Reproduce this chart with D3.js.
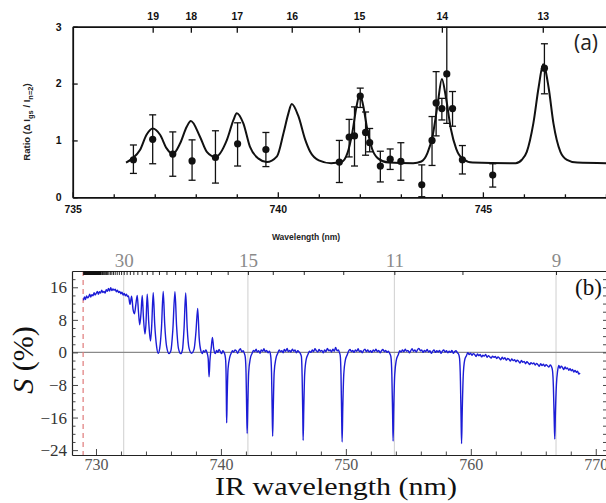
<!DOCTYPE html>
<html>
<head>
<meta charset="utf-8">
<script src="https://cdn.jsdelivr.net/npm/d3@7"></script>
<style>
  body { margin: 0; background: #fff; }
  svg { display: block; }
</style>
</head>
<body>
<script>
// ---- panel (a): ratio data, fit and n labels ----
var nA = [19, 18, 17, 16, 15, 14, 13];
var nAWl = [736.95, 737.88, 739.0, 740.34, 741.98, 744.0, 746.46];

var ptWl    = [736.48, 736.95, 737.44, 737.91, 738.48, 739.02, 739.71, 741.50, 741.74, 741.87, 742.01, 742.14, 742.24,
               742.50, 742.74, 743.00, 743.51, 743.76, 743.86, 744.00, 744.12, 744.26, 744.50, 745.24, 746.50];
var ptRatio = [0.66, 1.02, 0.76, 0.64, 0.70, 0.94, 0.84, 0.62, 1.06, 1.08, 1.78, 1.14, 0.96,
               0.55, 0.67, 0.63, 0.22, 1.00, 1.66, 1.56, 2.17, 1.56, 0.66, 0.39, 2.27];
var ptLo    = [0.42, 0.59, 0.37, 0.30, 0.25, 0.55, 0.54, 0.26, 0.71, 0.55, 1.58, 0.74, 0.80,
               0.27, 0.49, 0.30, 0.01, 0.56, 1.08, 1.36, 1.30, 1.25, 0.41, 0.18, 1.82];
var ptHi    = [0.92, 1.45, 1.15, 1.01, 1.17, 1.31, 1.14, 1.00, 1.37, 1.59, 1.92, 1.50, 1.21,
               0.81, 0.85, 0.96, 0.57, 1.42, 2.21, 1.74, 3.00, 1.86, 0.91, 0.59, 2.70];

var fitWl    = [736.30, 736.45, 736.64, 736.80, 736.95, 737.13, 737.29, 737.44, 737.62, 737.78, 737.88, 738.10,
                738.27, 738.48, 738.76, 738.92, 739.00, 739.16, 739.32, 739.53, 739.73, 739.98, 740.14, 740.26,
                740.34, 740.50, 740.67, 740.79, 741.00, 741.30, 741.55, 741.70, 741.82, 741.92, 742.00, 742.08,
                742.18, 742.30, 742.45, 742.70, 743.30, 743.50, 743.65, 743.78, 743.90, 744.00, 744.10, 744.22,
                744.35, 744.50, 744.75, 745.80, 745.95, 746.07, 746.23, 746.36, 746.47, 746.60, 746.72, 746.89,
                747.05, 747.30, 748.10];
var fitRatio = [0.61, 0.68, 0.83, 1.10, 1.21, 1.10, 0.86, 0.76, 0.95, 1.24, 1.34, 1.07,
                0.80, 0.71, 1.01, 1.36, 1.48, 1.30, 0.89, 0.68, 0.62, 0.72, 1.13, 1.48,
                1.64, 1.43, 1.01, 0.80, 0.65, 0.60, 0.62, 0.78, 1.15, 1.60, 1.81, 1.62,
                1.20, 0.85, 0.68, 0.61, 0.60, 0.63, 0.78, 1.10, 1.65, 2.08, 1.75, 1.20,
                0.85, 0.68, 0.61, 0.60, 0.66, 0.80, 1.30, 1.94, 2.34, 1.94, 1.30, 0.80,
                0.66, 0.61, 0.60];

var xTicksA = [735, 736, 737, 738, 739, 740, 741, 742, 743, 744, 745, 746, 747, 748];
var yTicksA = [0, 1, 2, 3];

// ---- panel (b): IR spectrum ----
var nB   = [9, 10, 11, 12, 13, 14, 15, 16, 17, 18, 19, 20, 21, 22, 23, 24, 25, 26, 27, 28, 29, 30,
            31, 32, 33, 34, 35, 36, 37, 38, 39, 40, 41, 42, 43, 44, 45];
var nBWl = [766.82, 759.33, 753.88, 749.79, 746.63, 744.15, 742.16, 740.54, 739.20, 738.08, 737.14, 736.33,
            735.64, 735.04, 734.52, 734.07, 733.66, 733.31, 732.99, 732.71, 732.45, 732.22,
            732.01, 731.83, 731.66, 731.50, 731.36, 731.23, 731.11, 730.99, 730.89, 730.80, 730.71,
            730.63, 730.55, 730.48, 730.42];
var nBLabels = [30, 15, 11, 9];
var limitWl = 728.97;

var xTicksB = [730, 732, 734, 736, 738, 740, 742, 744, 746, 748, 750, 752, 754, 756, 758, 760, 762, 764, 766, 768, 770];
var yTicksB = [-24, -22, -20, -18, -16, -14, -12, -10, -8, -6, -4, -2, 0, 2, 4, 6, 8, 10, 12, 14, 16, 18];

var spectrum = [
  [729.00,12.8],[729.08,13.6],[729.16,13.0],[729.25,13.9],[729.33,13.4],[729.42,13.7],[729.50,14.3],[729.58,13.6],
  [729.67,14.2],[729.76,13.9],[729.85,14.7],[729.93,14.1],[730.02,14.5],[730.11,15.0],[730.19,14.3],[730.28,14.9],
  [730.37,14.6],[730.46,15.3],[730.55,14.7],[730.64,15.0],[730.73,14.6],[730.82,15.4],[730.91,15.0],[731.00,15.7],
  [731.09,15.1],[731.18,15.9],[731.27,15.2],[731.36,15.6],[731.45,15.3],[731.54,15.5],[731.63,14.9],[731.72,15.3],
  [731.81,14.7],[731.90,15.0],[731.99,14.4],[732.08,14.8],[732.17,14.1],[732.26,14.5],[732.35,13.9],[732.44,14.3],
  [732.52,13.7],[732.60,13.9],
  [732.72,11.8],[732.85,13.8],[732.97,10.5],[733.08,9.5],[733.18,11.5],[733.30,14.0],[733.40,10.0],[733.50,6.8],
  [733.60,9.5],[733.70,14.0],[733.80,8.5],[733.92,4.5],[734.00,7.0],[734.10,14.3],[734.22,7.5],[734.36,2.8],
  [734.46,6.5],[734.58,14.7],[734.70,7.0],[734.85,1.5],[734.98,-0.2],[735.10,1.0],[735.24,6.0],[735.38,15.0],
  [735.50,7.0],[735.65,1.5],[735.85,-0.3],[736.00,0.5],[736.15,5.5],[736.32,14.9],[736.45,6.5],[736.60,1.0],
  [736.78,-0.3],[736.92,0.6],[737.05,6.0],[737.18,14.6],[737.30,6.0],[737.45,1.0],[737.65,-0.2],[737.85,0.8],
  [738.00,5.0],[738.14,10.8],[738.26,3.5],[738.40,0.3],
  [738.50,-0.3],[738.60,0.4],[738.70,0.1],[738.80,0.6],[738.90,-0.2],[738.98,-1.5],[739.05,-6.0],[739.12,-2.0],
  [739.22,1.0],[739.32,3.7],[739.42,1.0],[739.55,-0.3],[739.65,0.5],[739.75,0.0],[739.85,0.7],[739.95,0.2],
  [740.05,-0.3],[740.15,0.4],[740.25,0.0],[740.32,-0.6],[740.38,-2.0],
  [740.42,-7.0],[740.44,-13.0],[740.46,-17.3],[740.50,-11.0],[740.57,-4.0],
  [740.70,-1.3],[740.82,-0.2],[740.93,0.4],[741.02,0.1],[741.14,0.6],[741.25,0.3],[741.33,-0.2],[741.45,0.5],
  [741.56,0.9],[741.66,0.2],[741.78,0.4],[741.88,-0.3],[741.95,-1.2],[742.01,-5.0],
  [742.06,-14.0],[742.10,-19.9],[742.15,-13.0],[742.22,-5.0],[742.35,-1.5],
  [742.50,-0.2],[742.61,0.5],[742.70,0.2],[742.82,0.8],[742.90,0.1],[743.02,0.4],[743.13,-0.2],[743.22,0.6],
  [743.35,0.3],[743.44,0.9],[743.55,0.2],[743.66,0.5],[743.77,-0.1],[743.88,0.3],[743.98,-0.8],[744.05,-5.0],
  [744.10,-14.0],[744.14,-20.6],[744.19,-13.5],[744.26,-5.0],[744.40,-1.5],
  [744.55,-0.2],[744.66,0.6],[744.76,0.2],[744.87,0.4],[744.98,-0.1],[745.07,0.7],[745.18,0.3],[745.30,1.0],
  [745.39,0.2],[745.51,0.5],[745.60,0.1],[745.72,0.8],[745.83,0.3],[745.93,0.6],[746.04,-0.1],[746.15,0.4],
  [746.26,0.1],[746.36,-0.3],[746.44,-1.0],[746.50,-6.0],
  [746.55,-15.0],[746.58,-21.6],[746.63,-14.0],[746.70,-5.5],[746.82,-1.8],
  [746.98,-0.4],[747.09,0.3],[747.20,0.0],[747.31,0.6],[747.42,0.2],[747.52,0.9],[747.64,0.4],[747.75,0.1],
  [747.85,0.7],[747.96,0.3],[748.08,0.5],[748.18,-0.1],[748.30,0.6],[748.41,0.2],[748.52,1.0],[748.63,0.4],
  [748.74,0.6],[748.85,0.1],[748.96,0.8],[749.07,0.3],[749.18,1.2],[749.29,0.4],[749.40,0.6],[749.48,0.0],
  [749.55,-0.8],[749.61,-5.5],[749.66,-15.0],[749.70,-22.0],[749.75,-14.0],[749.83,-5.5],[749.95,-2.0],
  [750.12,-0.5],[750.22,0.3],[750.33,0.7],[750.44,0.2],[750.55,0.5],[750.65,0.0],[750.76,0.6],[750.87,0.3],
  [750.98,0.9],[751.09,0.2],[751.20,0.4],[751.31,-0.1],[751.42,0.5],[751.53,0.8],[751.64,0.2],[751.75,0.6],
  [751.86,0.1],[751.97,0.4],[752.08,0.0],[752.19,0.6],[752.30,0.3],[752.41,0.8],[752.52,0.2],[752.63,0.5],
  [752.74,-0.1],[752.85,0.4],[752.96,0.7],[753.07,0.2],[753.18,0.5],[753.29,0.0],[753.40,0.3],[753.50,-0.2],
  [753.60,-1.0],[753.68,-5.5],[753.74,-15.0],[753.78,-21.8],[753.83,-14.0],[753.91,-5.5],[754.03,-2.0],
  [754.20,-0.5],[754.31,0.4],[754.42,0.1],[754.53,0.6],[754.64,0.2],[754.75,0.8],[754.86,0.3],[754.97,0.5],
  [755.08,-0.1],[755.19,0.4],[755.30,0.9],[755.41,0.3],[755.52,0.6],[755.63,0.1],[755.74,0.7],[755.85,1.0],
  [755.96,0.4],[756.07,0.6],[756.18,0.0],[756.29,0.5],[756.40,0.2],[756.51,0.7],[756.62,0.1],[756.73,0.4],
  [756.84,-0.2],[756.95,0.3],[757.06,0.6],[757.17,0.0],[757.28,0.4],[757.39,0.1],[757.50,0.5],[757.61,-0.2],
  [757.72,0.3],[757.83,0.6],[757.94,0.1],[758.05,0.4],[758.16,-0.1],[758.27,0.3],[758.38,0.0],[758.49,0.5],
  [758.60,-0.2],[758.71,0.2],[758.82,0.4],[758.93,-0.1],[759.02,-0.4],
  [759.10,-1.5],[759.17,-7.0],[759.22,-16.0],[759.26,-22.4],[759.31,-15.0],[759.39,-6.0],[759.50,-2.0],
  [759.65,-0.8],[759.76,-0.1],[759.87,-0.5],[759.98,-0.2],[760.09,-0.7],[760.20,-0.3],[760.31,-0.5],[760.42,-1.0],
  [760.53,-0.4],[760.64,-0.8],[760.75,-0.5],[760.86,-1.1],[760.97,-0.7],[761.08,-0.9],[761.19,-0.5],[761.30,-1.2],
  [761.41,-0.8],[761.52,-1.1],[761.63,-1.4],[761.74,-0.9],[761.85,-1.2],[761.96,-1.0],[762.07,-1.5],[762.18,-1.1],
  [762.29,-1.4],[762.40,-1.8],[762.51,-1.2],[762.62,-1.6],[762.73,-1.3],[762.84,-1.9],[762.95,-1.5],[763.06,-1.7],
  [763.17,-2.1],[763.28,-1.6],[763.39,-2.0],[763.50,-1.8],[763.61,-2.3],[763.72,-1.9],[763.83,-2.2],[763.94,-2.6],
  [764.05,-2.0],[764.16,-2.4],[764.27,-2.2],[764.38,-2.8],[764.49,-2.3],[764.60,-2.6],[764.71,-3.0],[764.82,-2.5],
  [764.93,-2.8],[765.04,-2.6],[765.15,-3.1],[765.26,-2.7],[765.37,-3.0],[765.48,-3.4],[765.59,-2.8],[765.70,-3.2],
  [765.81,-2.9],[765.92,-3.4],[766.03,-3.0],[766.14,-3.3],[766.25,-3.6],[766.36,-3.1],[766.46,-3.5],
  [766.54,-4.5],[766.61,-8.5],[766.67,-16.0],[766.72,-21.3],[766.77,-15.0],[766.85,-8.0],[766.95,-4.5],
  [767.05,-3.2],[767.14,-3.9],[767.24,-3.4],[767.34,-3.7],[767.44,-4.2],[767.54,-3.6],[767.64,-4.0],[767.74,-3.8],
  [767.84,-4.4],[767.94,-4.0],[768.04,-4.5],[768.14,-4.2],[768.24,-4.8],[768.34,-4.4],[768.44,-4.9],[768.54,-4.6],
  [768.64,-5.3],[768.74,-5.0]
];

var W = 606, H = 503;
var svg = d3.select("body").append("svg")
    .attr("width", W)
    .attr("height", H);
svg.append("rect").attr("width", W).attr("height", H).attr("fill", "#fff");

// =========== panel (a) ===========
var sansA = "'Liberation Sans', Arial, sans-serif";
var xa = d3.scaleLinear().domain([735, 748.05]).range([72.7, 608]);
var ya = d3.scaleLinear().domain([0, 3]).range([197.3, 26.7]);

var ga = svg.append("g").attr("class", "panel-a");

function styleAxisA(g) {
    g.attr("font-family", sansA).attr("font-size", 10.5).attr("font-weight", "bold");
    g.select(".domain").attr("stroke", "#111").attr("stroke-width", 1.8);
    g.selectAll(".tick line").attr("stroke", "#111").attr("stroke-width", 1.3);
    g.selectAll(".tick text").attr("fill", "#111");
}

ga.append("g")
    .attr("transform", "translate(0," + ya(0) + ")")
    .call(d3.axisBottom(xa).tickValues(xTicksA).tickSizeInner(-3).tickSizeOuter(0).tickPadding(8)
        .tickFormat(function(d) { return d % 5 === 0 ? d : ""; }))
    .call(styleAxisA)
    .call(function(g) {
        g.selectAll(".tick line").attr("y2", function(d) { return d % 5 === 0 ? -5 : -3; });
    });

ga.append("g")
    .attr("transform", "translate(" + xa(735) + ",0)")
    .call(d3.axisLeft(ya).tickValues(yTicksA).tickFormat(d3.format("d"))
        .tickSizeInner(-5).tickSizeOuter(0).tickPadding(11))
    .call(styleAxisA);

ga.append("g")
    .attr("transform", "translate(0," + ya(3) + ")")
    .call(d3.axisTop(xa).tickValues(nAWl).tickSizeInner(-6).tickSizeOuter(0).tickPadding(7)
        .tickFormat(function(d, i) { return nA[i]; }))
    .call(styleAxisA);

// fit curve
var fitLine = d3.line()
    .x(function(d, i) { return xa(fitWl[i]); })
    .y(function(d, i) { return ya(fitRatio[i]); })
    .curve(d3.curveMonotoneX);
ga.append("path")
    .attr("d", fitLine(fitWl))
    .attr("fill", "none")
    .attr("stroke", "#111")
    .attr("stroke-width", 2);

// error bars + points
var pts = ptWl.map(function(w, i) { return { wl: w, r: ptRatio[i], lo: ptLo[i], hi: ptHi[i] }; });
var eb = ga.append("g").attr("stroke", "#111").attr("stroke-width", 1.3);
eb.selectAll("line.bar").data(pts).enter().append("line")
    .attr("class", "bar")
    .attr("x1", function(d) { return xa(d.wl); })
    .attr("x2", function(d) { return xa(d.wl); })
    .attr("y1", function(d) { return ya(d.lo); })
    .attr("y2", function(d) { return ya(Math.min(d.hi, 3)); });
eb.selectAll("line.caplo").data(pts).enter().append("line")
    .attr("class", "caplo")
    .attr("x1", function(d) { return xa(d.wl) - 3.5; })
    .attr("x2", function(d) { return xa(d.wl) + 3.5; })
    .attr("y1", function(d) { return ya(d.lo); })
    .attr("y2", function(d) { return ya(d.lo); });
eb.selectAll("line.caphi").data(pts.filter(function(d) { return d.hi < 3; })).enter().append("line")
    .attr("class", "caphi")
    .attr("x1", function(d) { return xa(d.wl) - 3.5; })
    .attr("x2", function(d) { return xa(d.wl) + 3.5; })
    .attr("y1", function(d) { return ya(d.hi); })
    .attr("y2", function(d) { return ya(d.hi); });
ga.selectAll("circle").data(pts).enter().append("circle")
    .attr("cx", function(d) { return xa(d.wl); })
    .attr("cy", function(d) { return ya(d.r); })
    .attr("r", 3.6)
    .attr("fill", "#111");

// labels (a)
var yLabA = ga.append("text")
    .attr("transform", "translate(30,122) rotate(-90)")
    .attr("text-anchor", "middle")
    .attr("font-family", sansA)
    .attr("font-weight", "bold")
    .attr("font-size", 9.5)
    .attr("fill", "#222");
yLabA.append("tspan").text("Ratio (\u0394 I");
yLabA.append("tspan").attr("dy", 3).attr("font-size", 7.5).text("gs");
yLabA.append("tspan").attr("dy", -3).text(" / I");
yLabA.append("tspan").attr("dy", 3).attr("font-size", 7.5).text("n=2");
yLabA.append("tspan").attr("dy", -3).text(")");

ga.append("text")
    .attr("x", 306).attr("y", 240)
    .attr("text-anchor", "middle")
    .attr("font-family", sansA)
    .attr("font-weight", "bold")
    .attr("font-size", 8.5)
    .attr("fill", "#222")
    .text("Wavelength (nm)");

ga.append("text")
    .attr("x", 574).attr("y", 50)
    .attr("font-family", "'Open Sans', 'Liberation Sans', sans-serif")
    .attr("font-size", 21)
    .attr("fill", "#222")
    .text("(a)");

// =========== panel (b) ===========
var serifB = "'Liberation Serif', 'DejaVu Serif', serif";
var xb = d3.scaleLinear().domain([728.08, 770.9]).range([72, 607]);
var yb = d3.scaleLinear().domain([-25.2, 20]).range([455, 271]);

var gb = svg.append("g").attr("class", "panel-b");

// grid lines at labelled n
var gridWl = nBWl.filter(function(w, i) { return nBLabels.indexOf(nB[i]) >= 0; });
gb.selectAll("line.grid").data(gridWl).enter().append("line")
    .attr("class", "grid")
    .attr("x1", function(d) { return xb(d); })
    .attr("x2", function(d) { return xb(d); })
    .attr("y1", yb(20))
    .attr("y2", yb(-25.2))
    .attr("stroke", "#cfcfcf")
    .attr("stroke-width", 1);

// zero line
gb.append("line")
    .attr("x1", xb(728.08)).attr("x2", xb(770.9))
    .attr("y1", yb(0)).attr("y2", yb(0))
    .attr("stroke", "#8a8a8a")
    .attr("stroke-width", 1.2);

// series limit (dashed)
gb.append("line")
    .attr("x1", xb(limitWl)).attr("x2", xb(limitWl))
    .attr("y1", yb(20)).attr("y2", yb(-25.2))
    .attr("stroke", "#e07a7a")
    .attr("stroke-width", 1.2)
    .attr("stroke-dasharray", "5,4");

// spectrum
var specLine = d3.line()
    .x(function(d) { return xb(d[0]); })
    .y(function(d) { return yb(d[1]); })
    .curve(d3.curveMonotoneX);
gb.append("path")
    .attr("d", specLine(spectrum))
    .attr("fill", "none")
    .attr("stroke", "#1c1cd6")
    .attr("stroke-width", 1.4);

function styleAxisB(g) {
    g.attr("font-family", serifB).attr("font-size", 17);
    g.select(".domain").attr("stroke", "#222").attr("stroke-width", 1.2);
    g.selectAll(".tick line").attr("stroke", "#333").attr("stroke-width", 0.9);
}

gb.append("g")
    .attr("transform", "translate(0," + yb(-25.2) + ")")
    .call(d3.axisBottom(xb).tickValues(xTicksB).tickSizeInner(-3.5).tickSizeOuter(0).tickPadding(4)
        .tickFormat(function(d) { return d % 10 === 0 ? d : ""; }))
    .call(styleAxisB)
    .call(function(g) {
        g.attr("font-size", 16);
        g.selectAll(".tick line").attr("y2", function(d) { return d % 10 === 0 ? -6 : -3.5; });
        g.selectAll(".tick text").attr("fill", "#555");
    });

gb.append("g")
    .attr("transform", "translate(" + xb(728.08) + ",0)")
    .call(d3.axisLeft(yb).tickValues(yTicksB).tickSizeInner(-3.5).tickSizeOuter(0).tickPadding(5)
        .tickFormat(function(d) { return d % 8 === 0 ? d3.format("d")(d) : ""; }))
    .call(styleAxisB)
    .call(function(g) {
        g.selectAll(".tick line").attr("x2", function(d) { return d % 8 === 0 ? 6 : 3.5; });
        g.selectAll(".tick text").attr("fill", "#333");
    });

gb.append("g")
    .attr("transform", "translate(" + xb(770.9) + ",0)")
    .call(d3.axisRight(yb).tickValues(yTicksB).tickSizeInner(-4).tickSizeOuter(0)
        .tickFormat(function() { return ""; }))
    .call(styleAxisB);

gb.append("g")
    .attr("transform", "translate(0," + yb(20) + ")")
    .call(d3.axisTop(xb).tickValues(nBWl).tickSizeInner(-4).tickSizeOuter(0).tickPadding(4)
        .tickFormat(function(d, i) { return nBLabels.indexOf(nB[i]) >= 0 ? nB[i] : ""; }))
    .call(styleAxisB)
    .call(function(g) {
        g.attr("font-size", 19);
        g.selectAll(".tick text").attr("fill", "#8a8a8a");
        g.selectAll(".tick line").attr("stroke", "#111");
    });

// converging tick band near the series limit
gb.append("rect")
    .attr("x", xb(limitWl))
    .attr("y", yb(20))
    .attr("width", xb(nBWl[nBWl.length - 1]) - xb(limitWl))
    .attr("height", 4)
    .attr("fill", "#111");

// labels (b)
gb.append("text")
    .attr("x", 215).attr("y", 495)
    .attr("font-family", serifB)
    .attr("font-size", 25)
    .attr("textLength", 242)
    .attr("lengthAdjust", "spacingAndGlyphs")
    .attr("fill", "#111")
    .text("IR wavelength (nm)");

var yLabB = gb.append("text")
    .attr("transform", "translate(33,360) rotate(-90)")
    .attr("text-anchor", "middle")
    .attr("font-family", serifB)
    .attr("font-size", 30)
    .attr("fill", "#111");
yLabB.append("tspan").attr("font-style", "italic").text("S");
yLabB.append("tspan").text(" (%)");

gb.append("text")
    .attr("x", 575).attr("y", 295)
    .attr("font-family", serifB)
    .attr("font-size", 23)
    .attr("fill", "#111")
    .text("(b)");
</script>
</body>
</html>
